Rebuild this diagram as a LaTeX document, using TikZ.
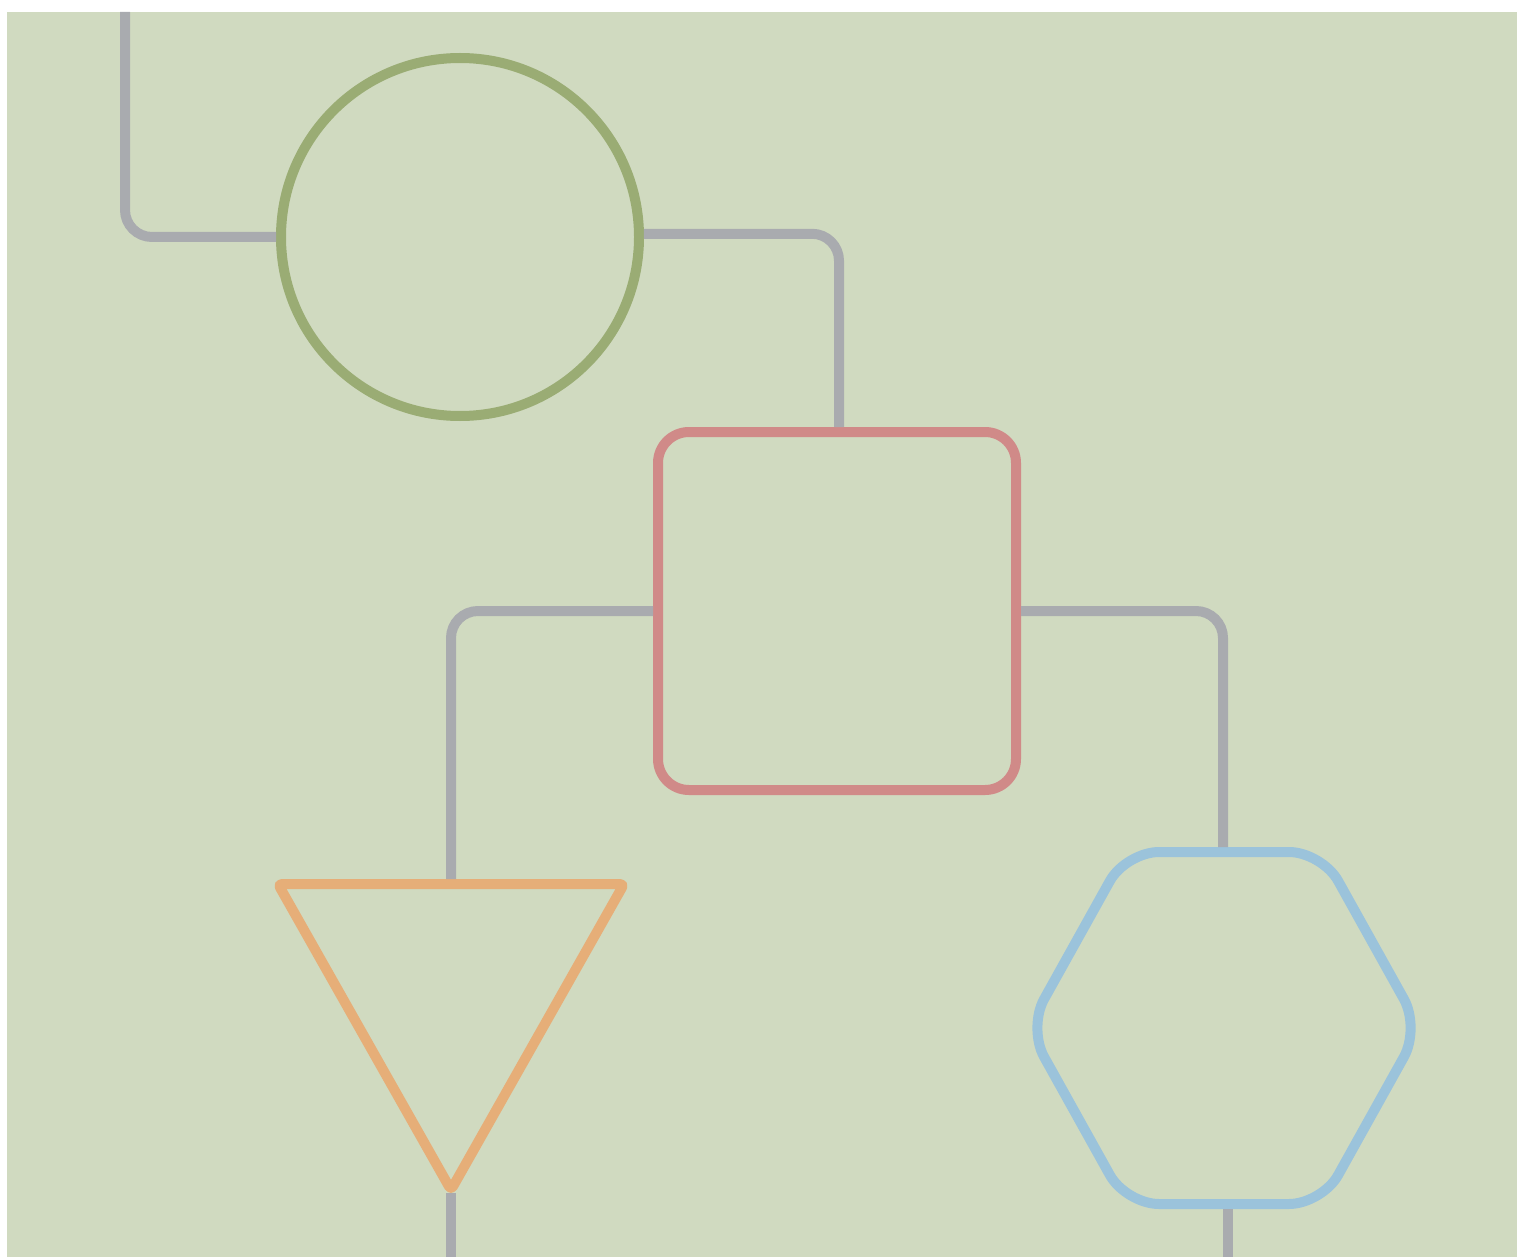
\documentclass[tikz,border=0pt]{standalone}
\usetikzlibrary{calc}
\definecolor{bgc}{RGB}{208,218,192}
\definecolor{wire}{RGB}{169,171,175}
\definecolor{cgreen}{RGB}{154,172,116}
\definecolor{cred}{RGB}{208,138,136}
\definecolor{corange}{RGB}{230,174,120}
\definecolor{cblue}{RGB}{155,195,219}
\tikzset{
  conn/.style={draw=wire, line width=10pt, rounded corners=27pt},
  shapebox/.style={line width=10pt, inner sep=0pt, fill=bgc},
}
\begin{document}
\begin{tikzpicture}[x=1pt,y=-1pt]
\useasboundingbox (0,0) rectangle (1517,1257);
\fill[bgc] (7,12) rectangle (1517,1257);
% shapes
\node[shapebox, draw=cgreen, circle, minimum size=358pt] (c) at (460,237) {};
\node[shapebox, draw=cred, rectangle, rounded corners=31pt, minimum width=358pt, minimum height=358pt] (sq) at (837,611) {};
\coordinate (tl) at (278,884);
\coordinate (tr) at (624,884);
\coordinate (tb) at (451,1190);
\coordinate (ttop) at (451,884);
\draw[shapebox, draw=corange, line join=round, rounded corners=4pt] (tl) -- (tr) -- (tb) -- cycle;
\coordinate (h1) at (1126,852);
\coordinate (h2) at (1322,852);
\coordinate (h3) at (1420,1028);
\coordinate (h4) at (1322,1204);
\coordinate (h5) at (1126,1204);
\coordinate (h6) at (1028,1028);
\coordinate (htop) at (1223,852);
\coordinate (hbot) at (1228,1204);
\draw[shapebox, draw=cblue, rounded corners=33pt] (h1) -- (h2) -- (h3) -- (h4) -- (h5) -- (h6) -- cycle;
% connector free ends
\coordinate (start) at (125,12);
\coordinate (endA) at (451,1257);
\coordinate (endB) at (1228,1257);
% connectors
\draw[conn] (start) |- (c.west);
\draw[conn] (c.1) -| ($(sq.north)+(2,0)$);
\draw[conn] (sq.west) -| ($(ttop)+(0,-5)$);
\draw[conn] (sq.east) -| ($(htop)+(0,-5)$);
\draw[conn] ($(tb)+(0,3)$) -- (endA);
\draw[conn] ($(hbot)+(0,5)$) -- (endB);
\end{tikzpicture}
\end{document}
